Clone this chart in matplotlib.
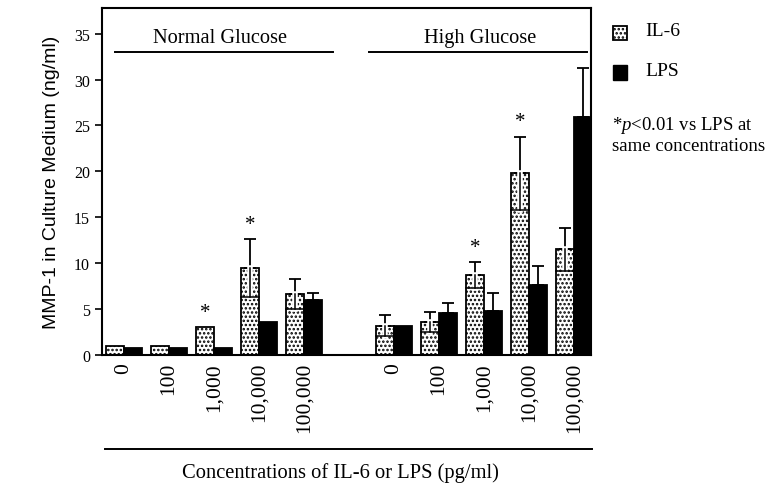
import numpy as np
import matplotlib
matplotlib.use("Agg")
import matplotlib.pyplot as plt
import matplotlib.patheffects as pe
from matplotlib.patches import Rectangle

plt.rcParams['font.family'] = 'Liberation Serif'
plt.rcParams['mathtext.fontset'] = 'custom'
plt.rcParams['mathtext.it'] = 'Liberation Serif:italic'
plt.rcParams['mathtext.rm'] = 'Liberation Serif'
plt.rcParams['hatch.linewidth'] = 1.2

# data (ng/ml)
concentrations = ["0", "100", "1,000", "10,000", "100,000"]
groups = ["Normal Glucose", "High Glucose"]

il6_normal = [1.0, 1.0, 3.0, 9.45, 6.65]
il6_normal_err = [0, 0, 0, 3.15, 1.65]
lps_normal = [0.8, 0.8, 0.8, 3.6, 6.0]
lps_normal_err = [0, 0, 0, 0, 0.75]

il6_high = [3.2, 3.6, 8.7, 19.8, 11.5]
il6_high_err = [1.15, 1.1, 1.4, 4.0, 2.3]
lps_high = [3.2, 4.6, 4.75, 7.6, 25.9]
lps_high_err = [0, 1.05, 2.05, 2.1, 5.4]

# significant IL-6 vs LPS
star_normal = [False, False, True, True, False]
star_high = [False, False, True, True, False]

il6 = il6_normal + il6_high
il6_err = il6_normal_err + il6_high_err
lps = lps_normal + lps_high
lps_err = lps_normal_err + lps_high_err
stars = star_normal + star_high

x = np.concatenate([np.arange(5), np.arange(5) + 6])
w = 0.4

fig = plt.figure(figsize=(7.68, 4.89), dpi=100)
ax = fig.add_axes([0.1324, 0.272, 0.637, 0.7096])

ax.bar(x - w / 2, il6, w, color='white', edgecolor='black', hatch='....', linewidth=1.3)
ax.bar(x + w / 2, lps, w, color='black', edgecolor='black', linewidth=1.3)

# upper error bars
for xi, v, e in zip(x - w / 2, il6, il6_err):
    if e > 0:
        ax.errorbar(xi, v, yerr=[[0], [e]], fmt='none', ecolor='black',
                    elinewidth=1.3, capsize=4.5, capthick=1.3)
        # lower half shown inside the dotted bar
        ax.plot([xi, xi], [v - e, v], color='black', lw=1.1,
                path_effects=[pe.Stroke(linewidth=4, foreground='white'), pe.Normal()])
        ax.plot([xi - w / 2, xi + w / 2], [v - e, v - e], color='black', lw=1.1)
for xi, v, e in zip(x + w / 2, lps, lps_err):
    if e > 0:
        ax.errorbar(xi, v, yerr=[[0], [e]], fmt='none', ecolor='black',
                    elinewidth=1.3, capsize=4.5, capthick=1.3)

for xi, v, e, s in zip(x - w / 2, il6, il6_err, stars):
    if s:
        ax.text(xi, v + e + 0.6, "*", ha='center', va='bottom', fontsize=15)

ax.set_xlim(-0.496, 10.38)
ax.set_ylim(0, 37.8)
ax.set_yticks(np.arange(0, 36, 5))
ax.tick_params(axis='y', direction='out', length=5, width=1.2, labelsize=11.5)
ax.set_xticks(x)
ax.set_xticklabels(concentrations * 2, rotation=90, fontsize=15.5, va='top')
ax.tick_params(axis='x', length=0, pad=5)
for sp in ax.spines.values():
    sp.set_linewidth(1.5)

# group headers
ax.text(2.13, 34.6, groups[0], ha='center', va='center', fontsize=14.7)
ax.plot([-0.2, 4.64], [33.0, 33.0], color='black', lw=1.4)
ax.text(7.91, 34.6, groups[1], ha='center', va='center', fontsize=14.7)
ax.plot([5.44, 10.29], [33.0, 33.0], color='black', lw=1.4)

ax.set_ylabel("MMP-1 in Culture Medium (ng/ml)", family='Liberation Sans', fontsize=14, labelpad=10)

# x axis caption with line
fig.add_artist(plt.Line2D([105 / 768, 592 / 768], [1 - 450 / 489, 1 - 450 / 489], color='black', lw=1.4))
fig.text(340 / 768, 1 - 473 / 489, "Concentrations of IL-6 or LPS (pg/ml)", ha='center', va='center', fontsize=14.8)

# legend
fig.add_artist(Rectangle((613 / 768, 1 - 41 / 489), 14 / 768, 14 / 489, facecolor='white',
                         edgecolor='black', hatch='....', lw=1.3, transform=fig.transFigure))
fig.add_artist(Rectangle((613 / 768, 1 - 81 / 489), 14 / 768, 15 / 489, facecolor='black',
                         edgecolor='black', lw=1.0, transform=fig.transFigure))
fig.text(645 / 768, 1 - 32 / 489, "IL-6", ha='left', va='center', fontsize=14)
fig.text(645 / 768, 1 - 72 / 489, "LPS", ha='left', va='center', fontsize=14)
fig.text(612 / 768, 1 - 135 / 489, "*$p$<0.01 vs LPS at\nsame concentrations", ha='left', va='center',
         fontsize=13.5, linespacing=1.15)

fig.savefig("out.png", dpi=100)
